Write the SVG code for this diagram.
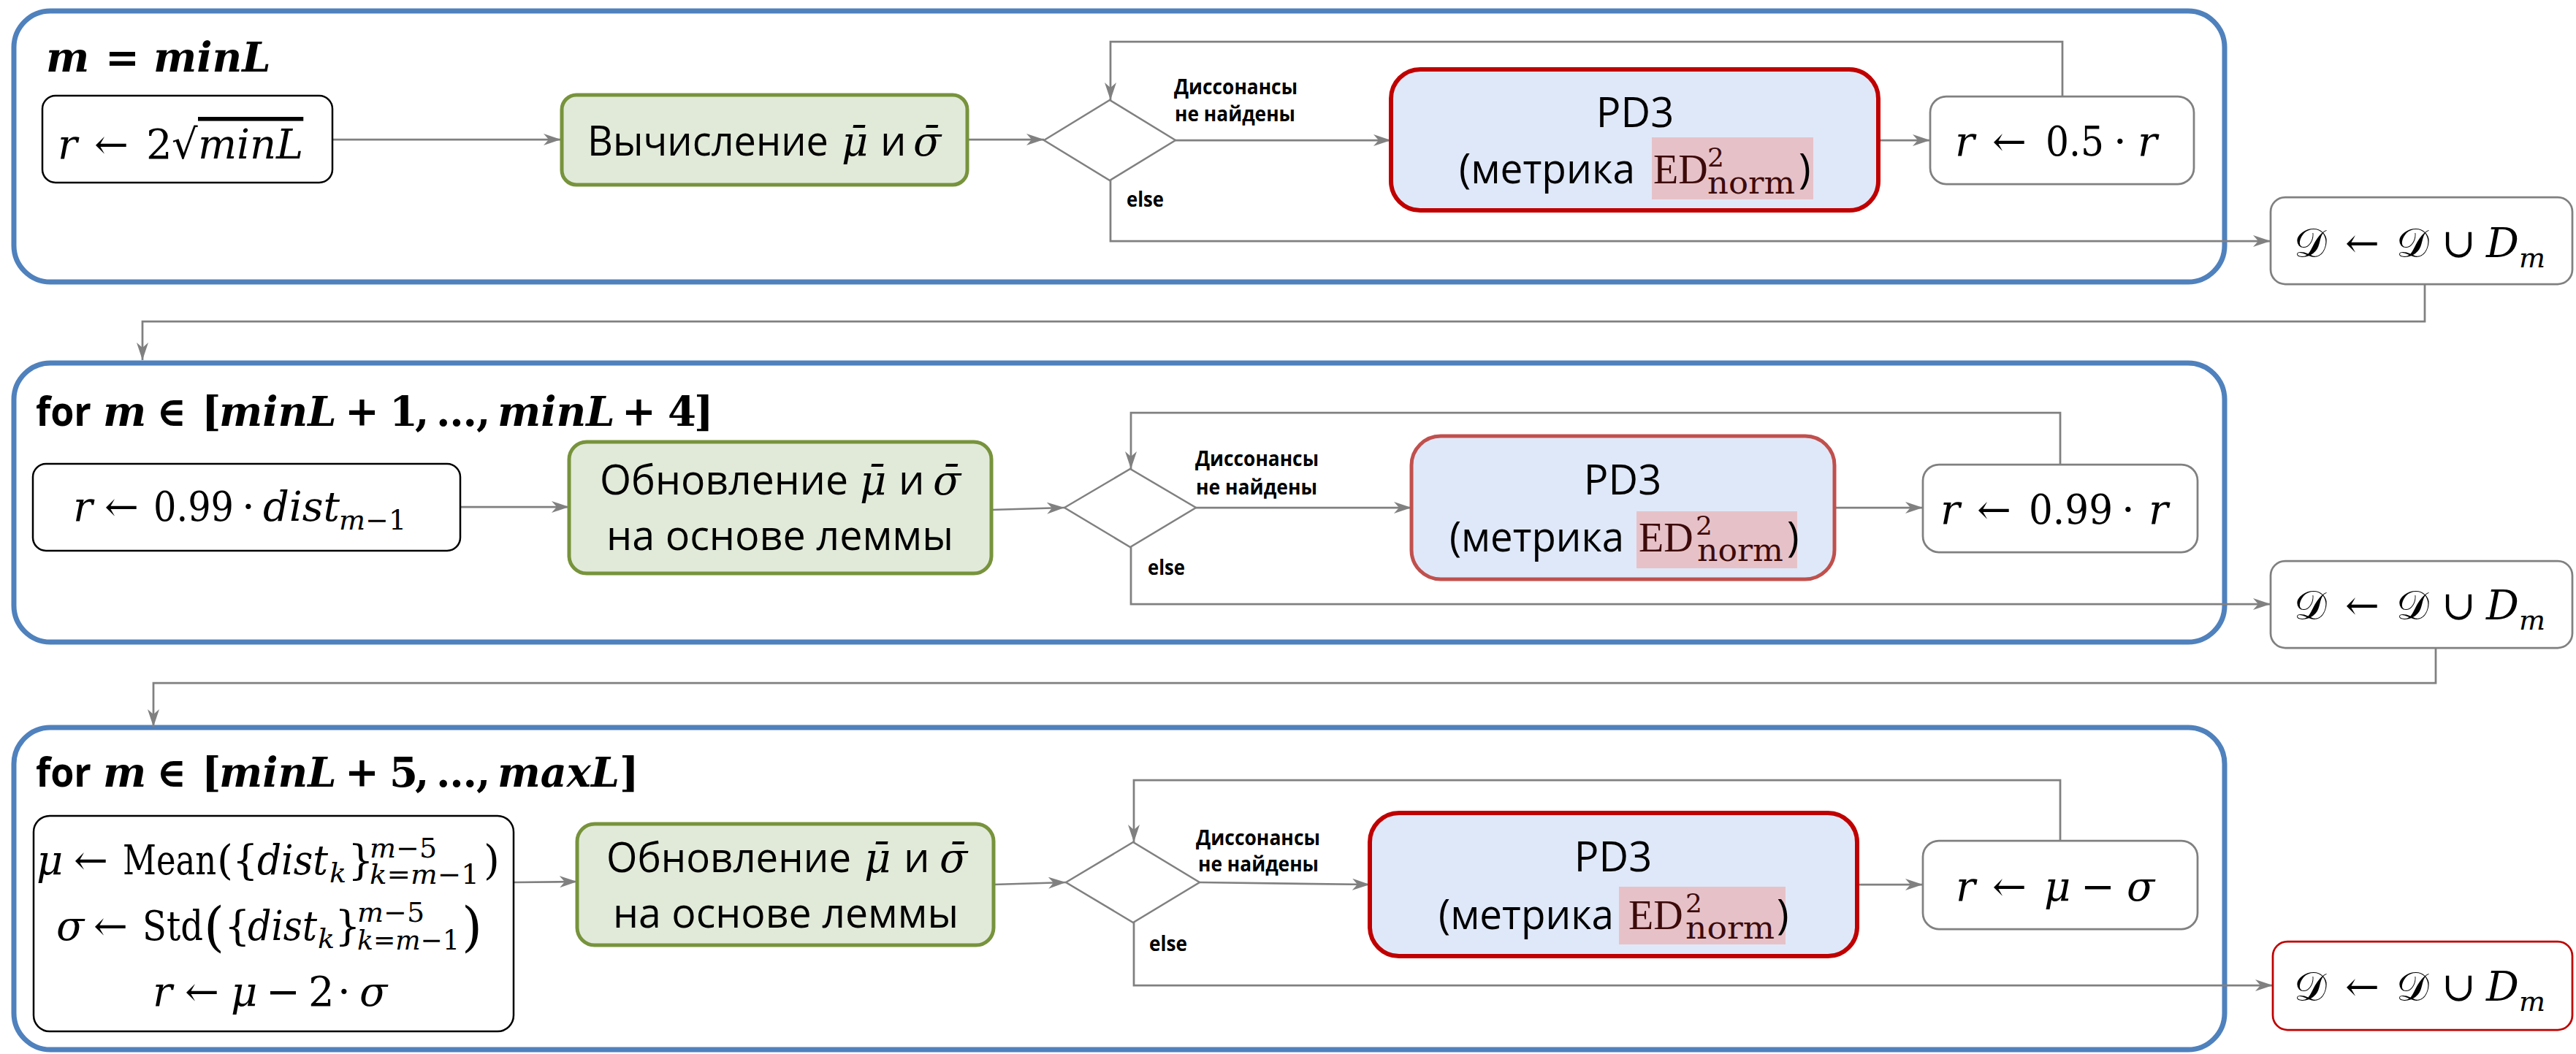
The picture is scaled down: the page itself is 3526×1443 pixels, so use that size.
<svg xmlns="http://www.w3.org/2000/svg" width="3526" height="1443" viewBox="0 0 3526 1443">
<style>
.cont{fill:none;stroke:#4f81bd;stroke-width:7}
.nb{fill:#fff;stroke:#000;stroke-width:2.5}
.ng{fill:#fff;stroke:#808080;stroke-width:2.75}
.nr{fill:#fff;stroke:#c00000;stroke-width:2.75}
.gr{fill:#e1ead9;stroke:#77933c;stroke-width:5}
.pd{fill:#dfe8f8;stroke:#c00000;stroke-width:6}
.pd2{fill:#dfe8f8;stroke:#c0504d;stroke-width:5}
.dia{fill:#fff;stroke:#808080;stroke-width:2.5}
.conn{fill:none;stroke:#808080;stroke-width:2.75}
.ru{font-family:"Open Sans","Noto Sans",sans-serif;font-size:56px;fill:#000}
.lbl{font-family:"Open Sans","Noto Sans",sans-serif;font-weight:bold;font-size:28px;fill:#000}
.m{font-family:"DejaVu Serif","Liberation Serif",serif;font-size:56px;fill:#000}
.t{font-family:"DejaVu Serif","Liberation Serif",serif;font-size:56px;font-weight:bold;fill:#000}
.for{font-family:"Open Sans","Noto Sans",sans-serif;font-size:56px;font-weight:bold;fill:#000}
.i{font-style:italic}
.s{font-size:38px}
.ov{text-decoration:overline}
.hl{fill:#e6c2c8}
.ed{font-family:"Liberation Serif","DejaVu Serif",serif;font-size:56px;fill:#3d0a0a}
.eds{font-family:"DejaVu Serif",serif;font-size:36px;fill:#3d0a0a}
.edn{font-family:"DejaVu Serif",serif;font-size:42px;fill:#3d0a0a}
</style>
<defs>
<marker id="arr" markerUnits="userSpaceOnUse" markerWidth="26" markerHeight="16" refX="24" refY="8" orient="auto">
<path d="M0,0 L24,8 L0,16 L7,8 z" fill="#808080"/>
</marker>
</defs>

<g id="container1"><rect class="cont" x="19" y="15" width="3026" height="371" rx="50"/>
<text y="98"><tspan class="t i" x="63">m</tspan><tspan class="t" x="144">=</tspan><tspan class="t i" x="210">minL</tspan></text></g>
<g id="container2"><rect class="cont" x="19" y="497" width="3026" height="382" rx="50"/>
<text y="583"><tspan class="for" x="49" textLength="76" lengthAdjust="spacingAndGlyphs">for</tspan><tspan class="t i" x="141">m</tspan><tspan class="t" x="214">∈</tspan><tspan class="t" x="276">[</tspan><tspan class="t i" x="300">minL</tspan><tspan class="t" x="472">+</tspan><tspan class="t" x="533">1</tspan><tspan class="t" x="568">,</tspan><tspan class="t" x="597">…</tspan><tspan class="t" x="652">,</tspan><tspan class="t i" x="681">minL</tspan><tspan class="t" x="851">+</tspan><tspan class="t" x="914">4</tspan><tspan class="t" x="950">]</tspan></text></g>
<g id="container3"><rect class="cont" x="19" y="996" width="3026" height="441" rx="50"/>
<text y="1077"><tspan class="for" x="49" textLength="76" lengthAdjust="spacingAndGlyphs">for</tspan><tspan class="t i" x="141">m</tspan><tspan class="t" x="214">∈</tspan><tspan class="t" x="276">[</tspan><tspan class="t i" x="300">minL</tspan><tspan class="t" x="472">+</tspan><tspan class="t" x="533">5</tspan><tspan class="t" x="568">,</tspan><tspan class="t" x="597">…</tspan><tspan class="t" x="652">,</tspan><tspan class="t i" x="681" textLength="167" lengthAdjust="spacingAndGlyphs">maxL</tspan><tspan class="t" x="848">]</tspan></text></g>

<g id="connectors">
<path class="conn" d="M455,191 H768" marker-end="url(#arr)"/>
<path class="conn" d="M1324,191 H1429" marker-end="url(#arr)"/>
<path class="conn" d="M1609,192 H1904" marker-end="url(#arr)"/>
<path class="conn" d="M2571,192 H2642" marker-end="url(#arr)"/>
<path class="conn" d="M2823,132 V57 H1520 V137" marker-end="url(#arr)"/>
<path class="conn" d="M1520,247 V330 H3108" marker-end="url(#arr)"/>
<path class="conn" d="M3319,389 V440 H195 V493" marker-end="url(#arr)"/>
<path class="conn" d="M630,694 H779" marker-end="url(#arr)"/>
<path class="conn" d="M1357,698 L1457,695" marker-end="url(#arr)"/>
<path class="conn" d="M1637,695 H1932" marker-end="url(#arr)"/>
<path class="conn" d="M2511,695 H2632" marker-end="url(#arr)"/>
<path class="conn" d="M2820,636 V565 H1548 V642" marker-end="url(#arr)"/>
<path class="conn" d="M1548,749 V827 H3108" marker-end="url(#arr)"/>
<path class="conn" d="M3334,887 V935 H210 V995" marker-end="url(#arr)"/>
<path class="conn" d="M703,1208 L790,1207" marker-end="url(#arr)"/>
<path class="conn" d="M1360,1211 L1459,1208" marker-end="url(#arr)"/>
<path class="conn" d="M1642,1208 L1875,1211" marker-end="url(#arr)"/>
<path class="conn" d="M2542,1211 H2632" marker-end="url(#arr)"/>
<path class="conn" d="M2820,1151 V1068 H1552 V1153" marker-end="url(#arr)"/>
<path class="conn" d="M1552,1263 V1349 H3111" marker-end="url(#arr)"/>
<text class="lbl" x="1607" y="129" textLength="169" lengthAdjust="spacingAndGlyphs">Диссонансы</text>
<text class="lbl" x="1608" y="166" textLength="165" lengthAdjust="spacingAndGlyphs">не найдены</text>
<text class="lbl" x="1542" y="283" textLength="51" lengthAdjust="spacingAndGlyphs">else</text>
<text class="lbl" x="1636" y="638" textLength="169" lengthAdjust="spacingAndGlyphs">Диссонансы</text>
<text class="lbl" x="1637" y="677" textLength="166" lengthAdjust="spacingAndGlyphs">не найдены</text>
<text class="lbl" x="1571" y="787" textLength="51" lengthAdjust="spacingAndGlyphs">else</text>
<text class="lbl" x="1637" y="1157" textLength="170" lengthAdjust="spacingAndGlyphs">Диссонансы</text>
<text class="lbl" x="1640" y="1193" textLength="165" lengthAdjust="spacingAndGlyphs">не найдены</text>
<text class="lbl" x="1573" y="1302" textLength="52" lengthAdjust="spacingAndGlyphs">else</text>
</g>

<!-- Row 1 -->
<g id="init1"><rect class="nb" x="58" y="131" width="397" height="119" rx="18"/>
<text class="m" y="217"><tspan x="79" class="i">r</tspan><tspan x="129">←</tspan><tspan x="200">2</tspan><tspan x="235">√</tspan><tspan x="271" class="i ov">minL</tspan></text></g>
<g id="calc1"><rect class="gr" x="769" y="130" width="555" height="123" rx="20"/>
<text class="ru" y="213"><tspan x="804" textLength="330" lengthAdjust="spacingAndGlyphs">Вычисление</tspan><tspan x="1152" class="m i">μ̄</tspan><tspan x="1205">и</tspan><tspan x="1250" class="m i">σ̄</tspan></text></g>
<g id="dec1"><polygon class="dia" points="1429,192 1519,137 1609,192 1519,247"/></g>
<g id="pd3_1"><rect class="pd" x="1904" y="95" width="667" height="193" rx="40"/>
<text class="ru" x="2238" y="174" text-anchor="middle">PD3</text>
<rect class="hl" x="2261" y="188" width="221" height="85"/>
<text class="ru" y="251"><tspan x="1997" textLength="241" lengthAdjust="spacingAndGlyphs">(метрика</tspan><tspan x="2263" class="ed">ED</tspan><tspan class="eds" x="2337" y="228">2</tspan><tspan class="edn" x="2337" y="265" textLength="120" lengthAdjust="spacingAndGlyphs">norm</tspan><tspan x="2462" y="251">)</tspan></text></g>
<g id="upd1"><rect class="ng" x="2642" y="132" width="361" height="120" rx="22"/>
<text class="m" y="213" font-size="58"><tspan x="2676" class="i">r</tspan><tspan x="2727">←</tspan><tspan x="2800" textLength="80" lengthAdjust="spacingAndGlyphs">0.5</tspan><tspan x="2893">·</tspan><tspan x="2926" class="i">r</tspan></text></g>
<g id="union1"><rect class="ng" x="3108" y="270" width="413" height="119" rx="20"/>
<text class="m" y="352"><tspan x="3140">𝒟</tspan><tspan x="3210">←</tspan><tspan x="3280">𝒟</tspan><tspan x="3342">∪</tspan><tspan x="3403" class="i">D</tspan><tspan class="i s" y="366">m</tspan></text></g>

<!-- Row 2 -->
<g id="init2"><rect class="nb" x="45" y="635" width="585" height="119" rx="18"/>
<text class="m" y="713" font-size="52"><tspan x="100" class="i">r</tspan><tspan x="143">←</tspan><tspan x="210" textLength="110" lengthAdjust="spacingAndGlyphs">0.99</tspan><tspan x="331">·</tspan><tspan x="360" class="i">dist</tspan><tspan x="464" y="725" class="s"><tspan class="i">m</tspan>−1</tspan></text></g>
<g id="calc2"><rect class="gr" x="779" y="605" width="578" height="180" rx="24"/>
<text class="ru" y="677"><tspan x="821" textLength="340" lengthAdjust="spacingAndGlyphs">Обновление</tspan><tspan x="1177" class="m i">μ̄</tspan><tspan x="1230">и</tspan><tspan x="1277" class="m i">σ̄</tspan></text>
<text class="ru" x="830" y="753" textLength="475" lengthAdjust="spacingAndGlyphs">на основе леммы</text></g>
<g id="dec2"><polygon class="dia" points="1457,695 1547,642 1637,695 1547,749"/></g>
<g id="pd3_2"><rect class="pd2" x="1932" y="597" width="579" height="196" rx="40"/>
<text class="ru" x="2221" y="677" text-anchor="middle">PD3</text>
<rect class="hl" x="2240" y="700" width="220" height="78"/>
<text class="ru" y="755"><tspan x="1984" textLength="239" lengthAdjust="spacingAndGlyphs">(метрика</tspan><tspan x="2243" class="ed">ED</tspan><tspan class="eds" x="2321" y="732">2</tspan><tspan class="edn" x="2323" y="768" textLength="118" lengthAdjust="spacingAndGlyphs">norm</tspan><tspan x="2446" y="755">)</tspan></text></g>
<g id="upd2"><rect class="ng" x="2632" y="636" width="376" height="120" rx="22"/>
<text class="m" y="717" font-size="58"><tspan x="2656" class="i">r</tspan><tspan x="2706">←</tspan><tspan x="2777" textLength="115" lengthAdjust="spacingAndGlyphs">0.99</tspan><tspan x="2904">·</tspan><tspan x="2941" class="i">r</tspan></text></g>
<g id="union2"><rect class="ng" x="3108" y="768" width="413" height="119" rx="20"/>
<text class="m" y="848"><tspan x="3140">𝒟</tspan><tspan x="3210">←</tspan><tspan x="3280">𝒟</tspan><tspan x="3342">∪</tspan><tspan x="3403" class="i">D</tspan><tspan class="i s" y="862">m</tspan></text></g>

<!-- Row 3 -->
<g id="init3"><rect class="nb" x="46" y="1117" width="657" height="295" rx="22"/>
<text class="m" y="1197" font-size="52"><tspan x="50" class="i">μ</tspan><tspan x="101">←</tspan><tspan x="168" textLength="128" lengthAdjust="spacingAndGlyphs">Mean</tspan><tspan x="297">(</tspan><tspan x="318">{</tspan><tspan x="352" class="i" textLength="97" lengthAdjust="spacingAndGlyphs">dist</tspan><tspan x="451" y="1208" class="i s">k</tspan><tspan x="476" y="1197">}</tspan><tspan x="506" y="1174" class="s"><tspan class="i">m</tspan>−5</tspan><tspan x="506" y="1210" class="s" textLength="150" lengthAdjust="spacingAndGlyphs"><tspan class="i">k</tspan>=<tspan class="i">m</tspan>−1</tspan><tspan x="662" y="1197">)</tspan></text>
<text class="m" y="1287" font-size="52"><tspan x="77" class="i">σ</tspan><tspan x="128">←</tspan><tspan x="195" textLength="83" lengthAdjust="spacingAndGlyphs">Std</tspan><tspan x="279" y="1294" font-size="72">(</tspan><tspan x="307" y="1287">{</tspan><tspan x="339" class="i" textLength="95" lengthAdjust="spacingAndGlyphs">dist</tspan><tspan x="435" y="1298" class="i s">k</tspan><tspan x="458" y="1287">}</tspan><tspan x="489" y="1262" class="s"><tspan class="i">m</tspan>−5</tspan><tspan x="489" y="1300" class="s" textLength="140" lengthAdjust="spacingAndGlyphs"><tspan class="i">k</tspan>=<tspan class="i">m</tspan>−1</tspan><tspan x="632" y="1294" font-size="72">)</tspan></text>
<text class="m" y="1377" font-size="52"><tspan x="209" class="i">r</tspan><tspan x="253">←</tspan><tspan x="316" class="i">μ</tspan><tspan x="364">−</tspan><tspan x="422">2</tspan><tspan x="462">·</tspan><tspan x="492" class="i">σ</tspan></text></g>
<g id="calc3"><rect class="gr" x="790" y="1128" width="570" height="166" rx="24"/>
<text class="ru" y="1194"><tspan x="830" textLength="335" lengthAdjust="spacingAndGlyphs">Обновление</tspan><tspan x="1183" class="m i">μ̄</tspan><tspan x="1237">и</tspan><tspan x="1286" class="m i">σ̄</tspan></text>
<text class="ru" x="839" y="1270" textLength="473" lengthAdjust="spacingAndGlyphs">на основе леммы</text></g>
<g id="dec3"><polygon class="dia" points="1459,1208 1551,1153 1642,1208 1551,1263"/></g>
<g id="pd3_3"><rect class="pd" x="1875" y="1113" width="667" height="196" rx="40"/>
<text class="ru" x="2208" y="1193" text-anchor="middle">PD3</text>
<rect class="hl" x="2216" y="1214" width="228" height="79"/>
<text class="ru" y="1272"><tspan x="1969" textLength="240" lengthAdjust="spacingAndGlyphs">(метрика</tspan><tspan x="2229" class="ed">ED</tspan><tspan class="eds" x="2307" y="1249">2</tspan><tspan class="edn" x="2307" y="1285" textLength="122" lengthAdjust="spacingAndGlyphs">norm</tspan><tspan x="2432" y="1272">)</tspan></text></g>
<g id="upd3"><rect class="ng" x="2632" y="1151" width="376" height="121" rx="22"/>
<text class="m" y="1233" font-size="58"><tspan x="2677" class="i">r</tspan><tspan x="2727">←</tspan><tspan x="2798" class="i">μ</tspan><tspan x="2848">−</tspan><tspan x="2911" class="i">σ</tspan></text></g>
<g id="union3"><rect class="nr" x="3111" y="1289" width="410" height="121" rx="20"/>
<text class="m" y="1370"><tspan x="3140">𝒟</tspan><tspan x="3210">←</tspan><tspan x="3280">𝒟</tspan><tspan x="3342">∪</tspan><tspan x="3403" class="i">D</tspan><tspan class="i s" y="1384">m</tspan></text></g>
</svg>
